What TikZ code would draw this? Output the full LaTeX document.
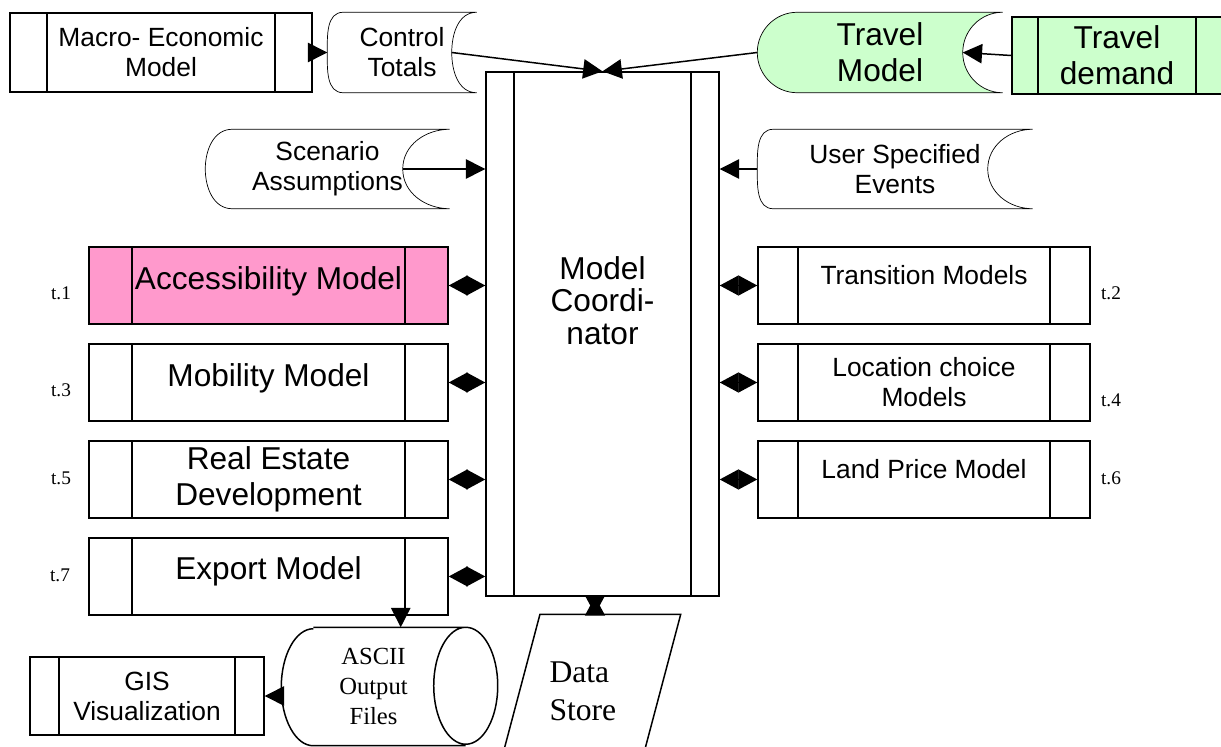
\documentclass[tikz,border=0pt]{standalone}
\usepackage{fontspec}
\setmainfont{Liberation Sans}
\newfontfamily\tms{Liberation Serif}
\usetikzlibrary{positioning,arrows.meta,backgrounds}
\definecolor{accpink}{HTML}{FF99CC}
\definecolor{travgreen}{HTML}{CCFFCC}

\begin{document}
\begin{tikzpicture}[x=0.02cm,y=-0.02cm,line width=0.85pt,node distance=1.94cm,
    >={Triangle[length=11pt,width=11pt]},
    proc node/.style={draw,inner sep=0pt,align=center,minimum height=1.54cm,
      path picture={\draw ([xshift=#1]path picture bounding box.north west) -- ([xshift=#1]path picture bounding box.south west)
        ([xshift=-#1]path picture bounding box.north east) -- ([xshift=-#1]path picture bounding box.south east);}},
    left node/.style={proc node=0.86cm,minimum width=7.18cm,font=\fontsize{18}{20.5}\selectfont},
    right node/.style={proc node=0.8cm,minimum width=6.64cm,font=\fontsize{15}{17}\selectfont},
    store node/.style={inner sep=0pt,align=center,minimum height=1.58cm,font=\fontsize{15}{17}\selectfont},
    tag/.style={font=\tms\fontsize{11}{13}\selectfont},
    link/.style={{Triangle[length=10.8pt,width=11.4pt]}-{Triangle[length=10.8pt,width=11.4pt]}},
    half/.style={-{Triangle[length=10.8pt,width=11.4pt]}}]
  \useasboundingbox (0,0) rectangle (1221,747);

  \node[proc node=0.74cm,minimum width=6.04cm,minimum height=1.58cm,font=\fontsize{15}{17}\selectfont] (mac) at (161,52.5) {Macro- Economic\\Model};
  \node[store node,minimum width=2.96cm] (ctl) at (402,52.5) {Control\\Totals};
  \node[store node,minimum width=4.88cm,font=\fontsize{18}{20.5}\selectfont] (tm) at (880,52.5) {Travel\\Model};
  \node[proc node=0.52cm,minimum width=4.2cm,fill=travgreen,font=\fontsize{18}{20.5}\selectfont] (td) at (1117,55.5) {Travel\\demand};
  \node[store node,minimum width=4.86cm,minimum height=1.56cm] (sc) at (327.5,169) {Scenario\\Assumptions};
  \node[store node,minimum width=5.48cm,minimum height=1.56cm] (ue) at (895,169) {User Specified\\Events};

  \node[proc node=0.56cm,minimum width=4.66cm,minimum height=10.48cm,
    label={[yshift=0.67cm,align=center,font=\fontsize{18}{18.5}\selectfont]center:Model\\Coordi-\\nator}] (coord) at (602.5,334) {};

  \node[left node,fill=accpink,text depth=0.31cm] (acc) at (268.5,285.5) {Accessibility Model};
  \node[left node,text depth=0.31cm] (mob) [below of=acc] {Mobility Model};
  \node[left node] (re) [below of=mob] {Real Estate\\Development};
  \node[left node,text depth=0.35cm] (exp) [below of=re] {Export Model};

  \node[right node,text depth=0.41cm] (tr) at (924,285.5) {Transition Models};
  \node[right node] (lc) [below of=tr] {Location choice\\Models};
  \node[right node,text depth=0.43cm] (lp) [below of=lc] {Land Price Model};

  \node[tag] (t1) at (61,293) {t.1};
  \node[tag] (t3) at (61,390) {t.3};
  \node[tag] (t5) at (61,478) {t.5};
  \node[tag] (t7) at (60,575) {t.7};
  \node[tag] (t2) at (1111,293) {t.2};
  \node[tag] (t4) at (1111,400) {t.4};
  \node[tag] (t6) at (1111,478) {t.6};

  \node[proc node=0.58cm,minimum width=4.68cm,minimum height=1.56cm,font=\fontsize{15}{17}\selectfont] (gis) at (147,696) {GIS\\Visualization};
  \node[minimum width=3.66cm,minimum height=2.34cm,inner sep=0pt,align=center,
    font=\tms\fontsize{14}{17}\selectfont] (asc) at (373.5,686.5) {ASCII\\Output\\Files};
  \node[minimum width=3.6cm,minimum height=3.04cm,inner sep=0pt,text width=1.62cm,align=left,
    font=\tms\fontsize{18}{21.6}\selectfont] (ds) at (590,691) {Data\\Store};

  \draw ([xshift=0.64cm]asc.north west) -- (asc.north east) arc[start angle=90,end angle=-270,x radius=0.64cm,y radius=1.17cm]
    (asc.south east) -- ([xshift=0.64cm]asc.south west) arc[start angle=270,end angle=90,x radius=0.64cm,y radius=1.17cm];
  \draw ([xshift=0.814cm]ds.north west) -- (ds.north east) -- ([xshift=-0.814cm]ds.south east) -- (ds.south west) -- cycle;

  \begin{scope}[on background layer]
    \draw (ctl.north east) -- ([xshift=0.32cm]ctl.north west) to[out=180,in=90] (ctl.west) to[out=-90,in=180] ([xshift=0.32cm]ctl.south west)
      -- (ctl.south east) to[out=180,in=-90] ([xshift=-0.5cm]ctl.east) to[out=90,in=180] (ctl.north east);
    \draw[fill=travgreen] (tm.north east) -- ([xshift=0.8cm]tm.north west) to[out=180,in=90] (tm.west) to[out=-90,in=180] ([xshift=0.8cm]tm.south west)
      -- (tm.south east) to[out=180,in=-90] ([xshift=-0.8cm]tm.east) to[out=90,in=180] (tm.north east);
    \draw (sc.north east) -- ([xshift=0.54cm]sc.north west) to[out=180,in=90] (sc.west) to[out=-90,in=180] ([xshift=0.54cm]sc.south west)
      -- (sc.south east) to[out=180,in=-90] ([xshift=-0.94cm]sc.east) to[out=90,in=180] (sc.north east);
    \draw (ue.north east) -- ([xshift=0.32cm]ue.north west) to[out=180,in=90] (ue.west) to[out=-90,in=180] ([xshift=0.32cm]ue.south west)
      -- (ue.south east) to[out=180,in=-90] ([xshift=-0.9cm]ue.east) to[out=90,in=180] (ue.north east);
  \end{scope}

  \coordinate (ctl-in) at ([xshift=-0.5cm]ctl.east);
  \coordinate (tm-in) at ([xshift=-0.8cm]tm.east);
  \coordinate (sc-in) at ([xshift=-0.94cm]sc.east);
  \coordinate (exp-out) at ([xshift=-0.96cm]exp.south east);
  \coordinate (coord-out) at ([xshift=-0.15cm]coord.south);

  \draw[->] (mac) -- (ctl);
  \draw[->] (ctl-in) -- (coord.north);
  \draw[->] (tm.west) -- (coord.north);
  \draw[->] (td.west) -- (tm-in);
  \draw[->] (sc-in) -- (sc-in -| coord.west);
  \draw[->] (ue.west) -- (ue.west -| coord.east);

  \draw[link] (acc) -- (acc -| coord.west);
  \draw[link] (mob) -- (mob -| coord.west);
  \draw[link] (re) -- (re -| coord.west);
  \draw[link] (exp) -- (exp -| coord.west);
  \draw[link] (tr) -- (tr -| coord.east);
  \draw[link] (lc) -- (lc -| coord.east);
  \draw[link] (lp) -- (lp -| coord.east);

  \draw[->] (exp-out) -- (exp-out |- asc.north);
  \draw[->] (gis.east -| asc.west) -- (gis.east);
  \draw[half] (coord-out |- ds.north) -- (coord-out);
  \draw[half] (coord-out) -- (coord-out |- ds.north);
\end{tikzpicture}
\end{document}
